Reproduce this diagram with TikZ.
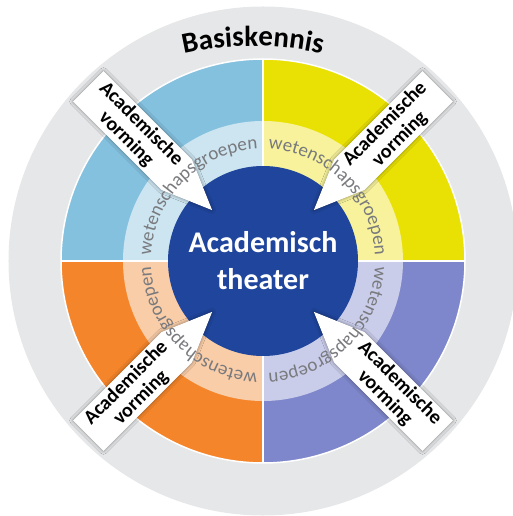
\documentclass[tikz,border=0pt]{standalone}
\usepackage{fontspec}
\setmainfont{Carlito}
\newfontfamily\basisfamily[LetterSpace=5]{Carlito}
\usetikzlibrary{decorations.text,shadows.blur}

\definecolor{grijs}{HTML}{E6E7E8}
\definecolor{blauw}{HTML}{84C1DF}
\definecolor{lichtblauw}{HTML}{CCE5F1}
\definecolor{geel}{HTML}{E9E104}
\definecolor{lichtgeel}{HTML}{F7F29B}
\definecolor{oranje}{HTML}{F5852A}
\definecolor{lichtoranje}{HTML}{F9CDA8}
\definecolor{paars}{HTML}{7E87CB}
\definecolor{lichtpaars}{HTML}{CACDEA}
\definecolor{donkerblauw}{HTML}{1F459C}
\definecolor{tekstgrijs}{HTML}{797A7E}

\tikzset{
  pijl/.style={fill=white, blur shadow={shadow xshift=0pt, shadow yshift=0pt, shadow blur radius=3.5pt, shadow opacity=45}},
  pijltekst/.style={align=center, inner sep=0pt, font=\bfseries\fontsize{20}{21}\selectfont},
  groep/.style={decorate, decoration={text along path, text align=center, text color=tekstgrijs,
    text={|\fontsize{19}{19}\selectfont|wetenschapsgroepen}}},
}

\begin{document}
\begin{tikzpicture}[x=1pt,y=1pt]
\useasboundingbox (-263,-255) rectangle (249,261);
\fill[grijs] (0,0) circle[radius=254.5pt];

% kwadranten
\fill[geel] (0,0) -- (0:202) arc[start angle=0, end angle=90, radius=202pt] -- cycle;
\fill[blauw] (0,0) -- (90:202) arc[start angle=90, end angle=180, radius=202pt] -- cycle;
\fill[oranje] (0,0) -- (180:202) arc[start angle=180, end angle=270, radius=202pt] -- cycle;
\fill[paars] (0,0) -- (270:202) arc[start angle=270, end angle=360, radius=202pt] -- cycle;
\fill[lichtgeel] (0,0) -- (0:140) arc[start angle=0, end angle=90, radius=140pt] -- cycle;
\fill[lichtblauw] (0,0) -- (90:140) arc[start angle=90, end angle=180, radius=140pt] -- cycle;
\fill[lichtoranje] (0,0) -- (180:140) arc[start angle=180, end angle=270, radius=140pt] -- cycle;
\fill[lichtpaars] (0,0) -- (270:140) arc[start angle=270, end angle=360, radius=140pt] -- cycle;
\draw[white, line width=1.5pt] (0,0) circle[radius=202pt];
\draw[white, line width=1.5pt] (-202,0) -- (202,0) (0,-202) -- (0,202);
\fill[donkerblauw] (0,0) circle[radius=95pt];

% pijlen naar het midden
\begin{scope}[shift={(135:247)}, rotate=-45]
\fill[pijl] (0,21.5) -- (125,21.5) -- (175,0) -- (125,-21.5) -- (0,-21.5) -- cycle;
\end{scope}
\begin{scope}[shift={(45:247)}, rotate=225]
\fill[pijl] (0,21.5) -- (125,21.5) -- (175,0) -- (125,-21.5) -- (0,-21.5) -- cycle;
\end{scope}
\begin{scope}[shift={(225:247)}, rotate=45]
\fill[pijl] (0,21.5) -- (125,21.5) -- (175,0) -- (125,-21.5) -- (0,-21.5) -- cycle;
\end{scope}
\begin{scope}[shift={(315:247)}, rotate=135]
\fill[pijl] (0,21.5) -- (125,21.5) -- (175,0) -- (125,-21.5) -- (0,-21.5) -- cycle;
\end{scope}
\node[pijltekst, rotate=-45] (vormingLB) at (135:183) {Academische\\vorming};
\node[pijltekst, rotate=45] (vormingRB) at (45:183) {Academische\\vorming};
\node[pijltekst, rotate=45] (vormingLO) at (225:183) {Academische\\vorming};
\node[pijltekst, rotate=-45] (vormingRO) at (315:183) {Academische\\vorming};

% tekst langs de binnenring
\path[groep] (90:112) arc[start angle=90, end angle=0, radius=112pt];
\path[groep] (180:112) arc[start angle=180, end angle=90, radius=112pt];
\path[groep] (270:112) arc[start angle=270, end angle=180, radius=112pt];
\path[groep] (360:112) arc[start angle=360, end angle=270, radius=112pt];

\path[shift={(-10,-95)}, decorate, decoration={text along path, text align=center,
  text={|\basisfamily\bfseries\fontsize{29}{29}\selectfont|Basiskennis}}]
  (113:310) arc[start angle=113, end angle=67, radius=310pt];

\node[text=white, align=center, font=\bfseries\fontsize{30}{37}\selectfont] (theater) at (0,0) {Academisch\\theater};
\end{tikzpicture}
\end{document}
